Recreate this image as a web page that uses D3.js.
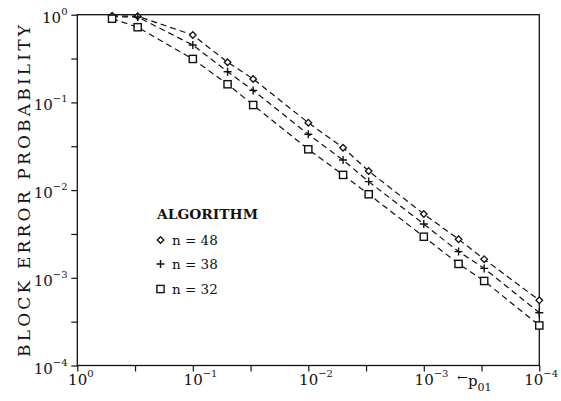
<!DOCTYPE html>
<html><head><meta charset="utf-8">
<script src="https://cdn.jsdelivr.net/npm/d3@7"></script>
<style>body{margin:0;background:#fff}svg{display:block}text{font-family:"DejaVu Serif",serif;fill:#111}</style>
</head><body><svg id="c" width="561" height="401"></svg>
<script>
// ---- data ----
const pValues = [0.5, 0.3, 0.1, 0.05, 0.03, 0.01, 0.005, 0.003, 0.001, 0.0005, 0.0003, 0.0001];
const n48 = [0.97, 0.96, 0.587, 0.287, 0.185, 0.0587, 0.0304, 0.0165, 0.00534, 0.00275, 0.00163, 0.000554];
const n38 = [0.95, 0.94, 0.451, 0.224, 0.137, 0.0433, 0.0220, 0.0125, 0.0041, 0.00199, 0.00128, 0.000400];
const n32 = [0.90, 0.72, 0.313, 0.161, 0.0934, 0.0292, 0.0149, 0.00896, 0.00294, 0.00144, 0.00092, 0.000286];
const seriesNames = ["n = 48", "n = 38", "n = 32"];
const seriesMarkers = ["diamond", "plus", "square"];
const decadeExponents = [0, -1, -2, -3, -4];
const tickExponents = [0, -0.5, -1, -1.5, -2, -2.5, -3, -3.5, -4];
const yTitle = "BLOCK ERROR PROBABILITY";
const legendTitle = "ALGORITHM";

const svg = d3.select("#c");
const L = 77.3, R = 539.3, T = 14.7, B = 365.5;
const x = d3.scaleLog().domain([1, 1e-4]).range([L, R]);
const y = d3.scaleLog().domain([1, 1e-4]).range([T, B]);
const tickVals = tickExponents.map(e => Math.pow(10, e));

// axes ticks
const gx = svg.append("g").attr("transform", `translate(0,${B})`)
  .call(d3.axisBottom(x).tickValues(tickVals).tickSize(6).tickFormat(""));
const gy = svg.append("g").attr("transform", `translate(${L},0)`)
  .call(d3.axisLeft(y).tickValues(tickVals).tickSize(6).tickFormat(""));
[gx, gy].forEach(g => { g.select(".domain").remove(); g.selectAll("line").attr("stroke", "#111").attr("stroke-width", 1.2); });

// frame
svg.append("rect").attr("x", L).attr("y", T).attr("width", R - L).attr("height", B - T)
  .attr("fill", "none").attr("stroke", "#111").attr("stroke-width", 1.3);

// x labels
decadeExponents.forEach((e, i) => {
  const last = i === decadeExponents.length - 1;
  const t = svg.append("text").attr("x", last ? 558 : x(Math.pow(10, e)) - 9.2).attr("y", B + 19)
    .attr("font-size", 15).attr("text-anchor", last ? "end" : "start");
  t.append("tspan").text("10");
  t.append("tspan").attr("dy", -8).attr("font-size", 10).text(e === 0 ? "0" : "\u2212" + (-e));
});
// y labels
decadeExponents.forEach(e => {
  const t = svg.append("text").attr("x", 67.5).attr("y", y(Math.pow(10, e)) + 8).attr("font-size", 15).attr("text-anchor", "end");
  t.append("tspan").text("10");
  t.append("tspan").attr("dy", -8).attr("font-size", 10).text(e === 0 ? "0" : "\u2212" + (-e));
});
// p01 label
const pl = svg.append("text").attr("x", 457).attr("y", 386).attr("font-size", 15);
pl.append("tspan").attr("font-size", 13).attr("dy", -4).text("\u2190");
pl.append("tspan").attr("dy", 4).text("p");
pl.append("tspan").attr("dy", 5).attr("font-size", 11).text("01");

// y title
svg.append("text").attr("transform", "translate(30,191) rotate(-90)").attr("text-anchor", "middle")
  .attr("font-size", 17).attr("textLength", 332).attr("lengthAdjust", "spacing").text(yTitle);

// markers
function marker(g, type, cx, cy) {
  if (type === "diamond") {
    const s = 3.3;
    g.append("path").attr("d", `M${cx},${cy - s}L${cx + s},${cy}L${cx},${cy + s}L${cx - s},${cy}Z`)
      .attr("fill", "#fff").attr("stroke", "#111").attr("stroke-width", 1.3);
  } else if (type === "plus") {
    const s = 4;
    g.append("path").attr("d", `M${cx - s},${cy}H${cx + s}M${cx},${cy - s}V${cy + s}`)
      .attr("stroke", "#111").attr("stroke-width", 1.4);
  } else {
    const s = 3.6;
    g.append("rect").attr("x", cx - s).attr("y", cy - s).attr("width", 2 * s).attr("height", 2 * s)
      .attr("fill", "#fff").attr("stroke", "#111").attr("stroke-width", 1.4);
  }
}

const allSeries = [n48, n38, n32];
const line = d3.line().x(d => x(d[0])).y(d => y(d[1]));
allSeries.forEach((vals, i) => {
  const pts = pValues.map((p, j) => [p, vals[j]]);
  svg.append("path").attr("d", line(pts)).attr("fill", "none").attr("stroke", "#111")
    .attr("stroke-width", 1.2).attr("stroke-dasharray", "6,4");
});
allSeries.forEach((vals, i) => {
  const g = svg.append("g");
  pValues.forEach((p, j) => marker(g, seriesMarkers[i], x(p), y(vals[j])));
});

// legend
svg.append("text").attr("x", 157).attr("y", 219).attr("font-size", 13).attr("font-weight", "bold")
  .attr("textLength", 101).attr("lengthAdjust", "spacingAndGlyphs").text(legendTitle);
const legY = [240, 264, 289];
seriesNames.forEach((nm, i) => {
  const g = svg.append("g");
  marker(g, seriesMarkers[i], 160.5, legY[i]);
  svg.append("text").attr("x", 172).attr("y", legY[i] + 4.5).attr("font-size", 13.5).text(nm);
});
</script></body></html>
